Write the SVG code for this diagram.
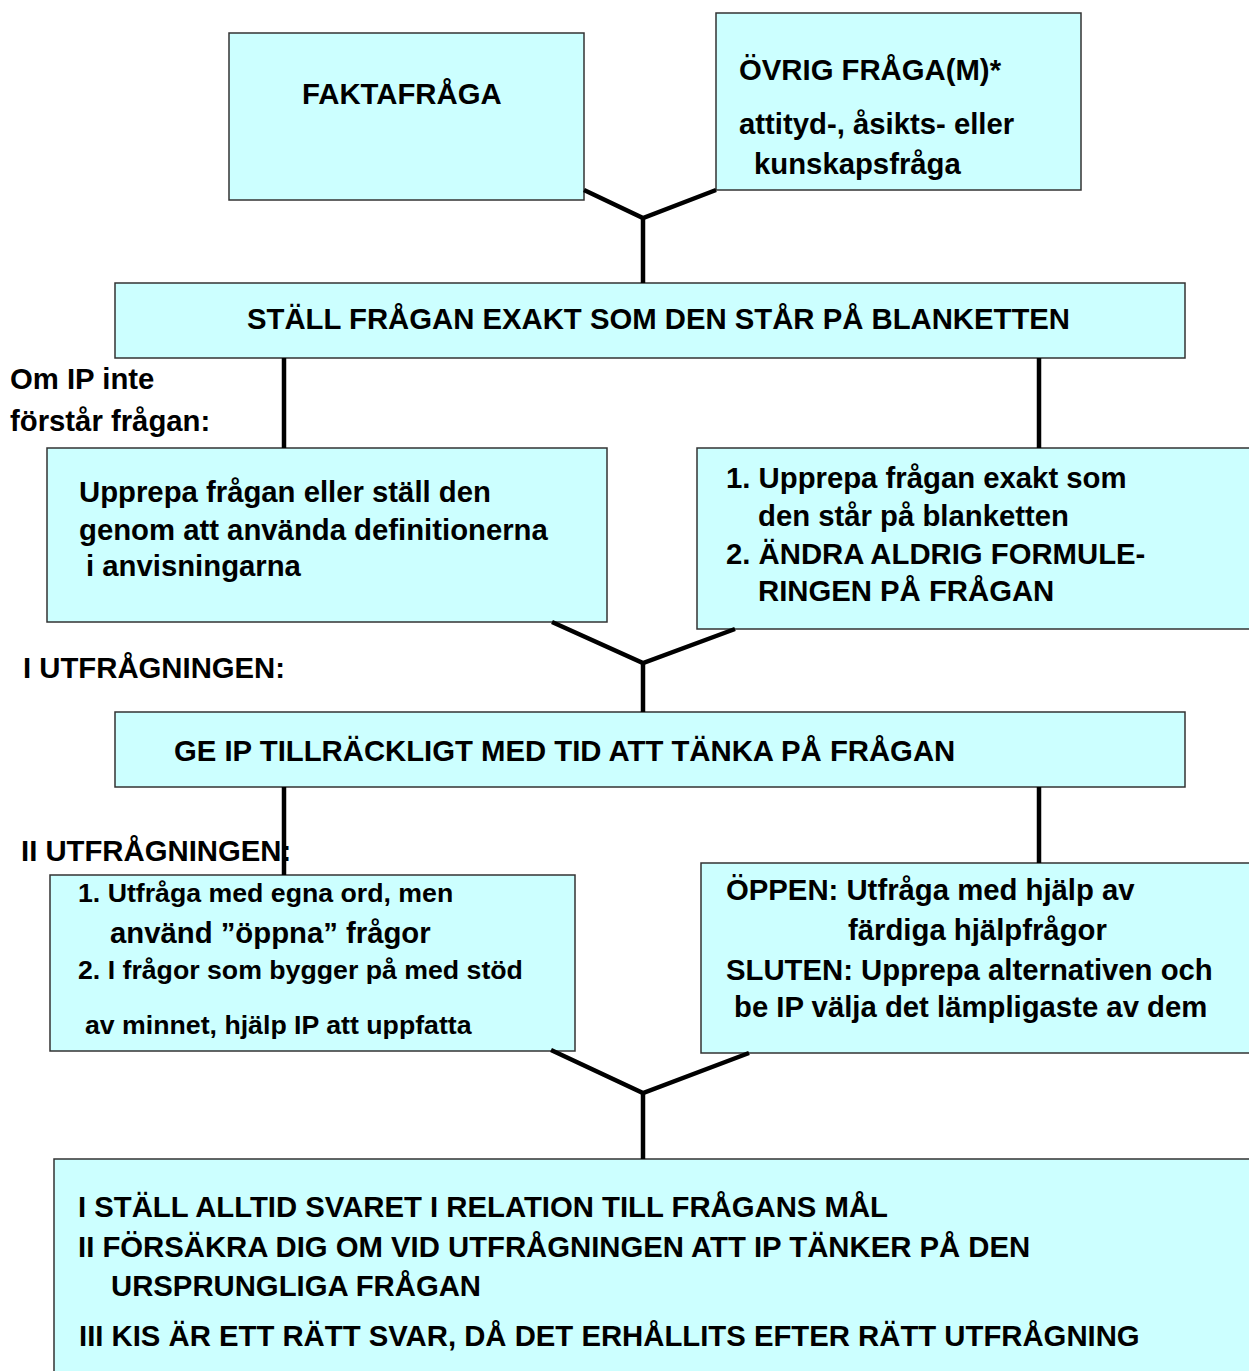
<svg xmlns="http://www.w3.org/2000/svg" width="1249" height="1371" viewBox="0 0 1249 1371">
<style>
.box{fill:#ccffff;stroke:#333333;stroke-width:1.5}
text{font-family:"Liberation Sans",Arial,Helvetica,sans-serif;font-weight:bold;fill:#000000;font-size:29.3px}
.sm{font-size:26.7px}
.conn{fill:none;stroke:#000000;stroke-width:4.5;stroke-linejoin:miter}
</style>
<rect width="1249" height="1371" fill="#ffffff"/>
<g id="n-fakta">
<rect class="box" x="229" y="33" width="355" height="167"/>
<text x="302" y="104">FAKTAFRÅGA</text>
</g>
<g id="n-ovrig">
<rect class="box" x="716" y="13" width="365" height="177"/>
<text x="739" y="80">ÖVRIG FRÅGA(M)*</text>
<text x="739" y="134">attityd-, åsikts- eller</text>
<text x="754" y="174">kunskapsfråga</text>
</g>
<g id="n-stall">
<rect class="box" x="115" y="283" width="1070" height="75"/>
<text x="247" y="329">STÄLL FRÅGAN EXAKT SOM DEN STÅR PÅ BLANKETTEN</text>
</g>
<g id="n-upprepa-def">
<rect class="box" x="47" y="448" width="560" height="174"/>
<text x="79" y="502">Upprepa frågan eller ställ den</text>
<text x="79" y="540">genom att använda definitionerna</text>
<text x="86" y="576">i anvisningarna</text>
</g>
<g id="n-upprepa-exakt">
<rect class="box" x="697" y="448" width="570" height="181"/>
<text x="726" y="488">1. Upprepa frågan exakt som</text>
<text x="758" y="526">den står på blanketten</text>
<text x="726" y="564">2. ÄNDRA ALDRIG FORMULE-</text>
<text x="758" y="601">RINGEN PÅ FRÅGAN</text>
</g>
<g id="n-ge-ip">
<rect class="box" x="115" y="712" width="1070" height="75"/>
<text x="174" y="761">GE IP TILLRÄCKLIGT MED TID ATT TÄNKA PÅ FRÅGAN</text>
</g>
<g id="n-utfraga">
<rect class="box" x="50" y="875" width="525" height="176"/>
<text class="sm" x="78" y="902">1. Utfråga med egna ord, men</text>
<text x="110" y="943">använd ”öppna” frågor</text>
<text class="sm" x="78" y="979">2. I frågor som bygger på med stöd</text>
<text class="sm" x="85" y="1034">av minnet, hjälp IP att uppfatta</text>
</g>
<g id="n-oppen-sluten">
<rect class="box" x="701" y="863" width="566" height="190"/>
<text x="726" y="900">ÖPPEN: Utfråga med hjälp av</text>
<text x="848" y="940">färdiga hjälpfrågor</text>
<text x="726" y="980">SLUTEN: Upprepa alternativen och</text>
<text x="734" y="1017">be IP välja det lämpligaste av dem</text>
</g>
<g id="n-slut">
<rect class="box" x="54" y="1159" width="1213" height="230"/>
<text x="78" y="1217">I STÄLL ALLTID SVARET I RELATION TILL FRÅGANS MÅL</text>
<text x="78" y="1257">II FÖRSÄKRA DIG OM VID UTFRÅGNINGEN ATT IP TÄNKER PÅ DEN</text>
<text x="111" y="1296">URSPRUNGLIGA FRÅGAN</text>
<text x="79" y="1346">III KIS ÄR ETT RÄTT SVAR, DÅ DET ERHÅLLITS EFTER RÄTT UTFRÅGNING</text>
</g>
<g id="labels">
<text x="10" y="389">Om IP inte</text>
<text x="10" y="431">förstår frågan:</text>
<text x="23" y="678">I UTFRÅGNINGEN:</text>
<text x="21" y="861">II UTFRÅGNINGEN:</text>
</g>
<g id="connectors">
<polyline class="conn" points="584,190 643,218 716,190"/>
<line class="conn" x1="643" y1="218" x2="643" y2="283"/>
<line class="conn" x1="284" y1="358" x2="284" y2="448"/>
<line class="conn" x1="1039" y1="358" x2="1039" y2="448"/>
<polyline class="conn" points="552,622 643,663 735,629"/>
<line class="conn" x1="643" y1="663" x2="643" y2="712"/>
<line class="conn" x1="284" y1="787" x2="284" y2="875"/>
<line class="conn" x1="1039" y1="787" x2="1039" y2="863"/>
<polyline class="conn" points="551,1050 643,1093 749,1053"/>
<line class="conn" x1="643" y1="1093" x2="643" y2="1159"/>
</g>
</svg>
